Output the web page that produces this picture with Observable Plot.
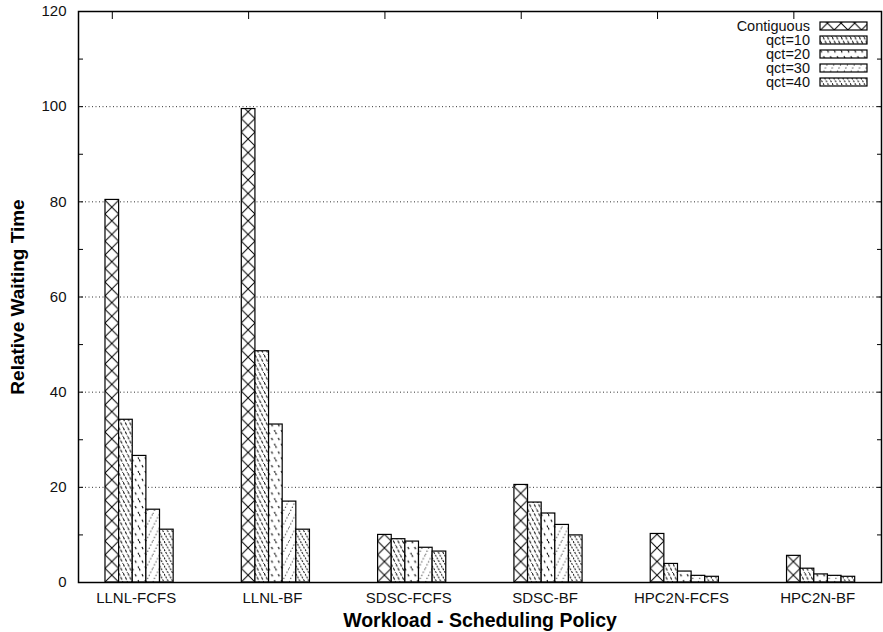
<!DOCTYPE html>
<html><head><meta charset="utf-8">
<script src="https://cdn.jsdelivr.net/npm/d3@7"></script>
<script src="https://cdn.jsdelivr.net/npm/@observablehq/plot@0.6"></script>
<style>body{margin:0;background:#fff;} svg{display:block}</style>
</head><body><div id="chart"></div>
<script>
// ---- data ----
const groups = ["LLNL-FCFS", "LLNL-BF", "SDSC-FCFS", "SDSC-BF", "HPC2N-FCFS", "HPC2N-BF"];
const series = ["Contiguous", "qct=10", "qct=20", "qct=30", "qct=40"];
const contiguous = [80.4, 99.5, 10.0, 20.5, 10.2, 5.6];
const qct10 = [34.2, 48.6, 9.1, 16.8, 3.9, 2.9];
const qct20 = [26.6, 33.2, 8.6, 14.5, 2.3, 1.7];
const qct30 = [15.3, 17.0, 7.3, 12.1, 1.4, 1.4];
const qct40 = [11.1, 11.1, 6.5, 9.9, 1.2, 1.2];
const yTicks = [0, 20, 40, 60, 80, 100, 120];
const yMinor = [0, 10, 20, 30, 40, 50, 60, 70, 80, 90, 100, 110, 120];
const yGrid = [20, 40, 60, 80, 100];

const values = [contiguous, qct10, qct20, qct30, qct40];
const rows = [];
series.forEach((s, j) => groups.forEach((g, i) => rows.push({group: g, series: s, gi: i, sj: j, value: values[j][i]})));

const CLUSTER = 10; // slots per cluster: 5 bars + gap of 5
const labelPos = groups.map((g, i) => i * CLUSTER + 2.25);
const topTickPos = groups.map((g, i) => i * CLUSTER + 0.5);
const font = "Liberation Sans, Arial, Helvetica, sans-serif";
const TICK_FS = 15;

const chart = Plot.plot({
  width: 883, height: 632,
  marginLeft: 78, marginRight: 2, marginTop: 11, marginBottom: 50,
  style: {fontFamily: font, fontSize: TICK_FS + "px", background: "white", color: "black"},
  x: {domain: [-1.98, 56.93], axis: null},
  y: {domain: [0, 120], axis: null},
  marks: [
    Plot.gridY(yGrid, {stroke: "#333", strokeOpacity: 1, strokeDasharray: "1,2.5", strokeWidth: 1}),
    ...series.map((s, j) => Plot.rect(rows.filter(r => r.sj === j), {
      x1: d => d.gi * CLUSTER + d.sj, x2: d => d.gi * CLUSTER + d.sj + 1,
      y1: 0, y2: "value", fill: `url(#pat${j})`, stroke: "black", strokeWidth: 1.2
    })),
    Plot.frame({stroke: "black", strokeWidth: 1.5}),
    Plot.axisY({ticks: yTicks, tickSize: 0, tickPadding: 12, label: null, fontSize: TICK_FS, fill: "#111"}),
    Plot.axisY({ticks: yMinor, tickSize: -5, tickFormat: () => "", label: null}),
    Plot.axisY({anchor: "right", ticks: yMinor, tickSize: -5, tickFormat: () => "", label: null}),
    Plot.axisX({anchor: "bottom", ticks: labelPos, tickSize: 0, tickPadding: 10, label: null,
      tickFormat: d => groups[Math.round((d - 2.25) / CLUSTER)], fontSize: TICK_FS, fill: "#111"}),
    Plot.axisX({anchor: "top", ticks: topTickPos, tickSize: -7, tickFormat: () => "", label: null}),
    Plot.text(["Workload - Scheduling Policy"], {frameAnchor: "bottom", dy: 38, lineAnchor: "middle", textAnchor: "middle", fontWeight: "bold", fontSize: 19.5, fill: "black"}),
    Plot.text(["Relative Waiting Time"], {frameAnchor: "left", dx: -61, rotate: -90, textAnchor: "middle", lineAnchor: "middle", fontWeight: "bold", fontSize: 19, fill: "black"})
  ]
});
document.getElementById("chart").appendChild(chart);

const svg = d3.select(chart);
// enforce tick-label font size
const tickTexts = new Set([...groups, ...yTicks.map(String)]);
svg.selectAll("text").each(function () {
  if (tickTexts.has(this.textContent)) {
    this.setAttribute("font-size", String(TICK_FS));
    this.style.fontSize = TICK_FS + "px";
  }
});

// ---- fill patterns ----
const sx = chart.scale("x"), sy = chart.scale("y");
const xs = d3.scaleLinear(sx.domain, sx.range), ys = d3.scaleLinear(sy.domain, sy.range);
const x0 = xs(0), y0 = ys(0);
const bw = xs(1) - xs(0);
const defs = svg.insert("defs", ":first-child");
function addPattern(id, w, h, draw) {
  const p = defs.append("pattern").attr("id", id).attr("patternUnits", "userSpaceOnUse")
    .attr("x", x0).attr("y", y0).attr("width", w).attr("height", h);
  p.append("rect").attr("width", w).attr("height", h).attr("fill", "white");
  draw(p, w, h);
}
// Contiguous: crosshatch
addPattern("pat0", bw, bw, (p, w, h) => {
  p.append("path").attr("d", `M0,0L${w},${h}M${w},0L0,${h}`).attr("stroke", "#000").attr("stroke-width", 1).attr("fill", "none");
});
// qct=10: dense dashed backslashes
addPattern("pat1", bw / 3, bw * 2 / 3, (p, w, h) => {
  p.append("path").attr("d", `M0,0L${w},${h}`).attr("stroke", "#000").attr("stroke-width", 1).attr("stroke-dasharray", "3,1.6").attr("fill", "none");
});
// qct=20: sparse dashed backslashes
addPattern("pat2", bw / 2, bw, (p, w, h) => {
  p.append("path").attr("d", `M0,0L${w},${h}`).attr("stroke", "#000").attr("stroke-width", 1.1).attr("stroke-dasharray", "2.5,4").attr("fill", "none");
});
// qct=30: light dotted forward slashes
addPattern("pat3", bw / 2, bw, (p, w, h) => {
  p.append("path").attr("d", `M0,${h}L${w},0`).attr("stroke", "#222").attr("stroke-width", 1).attr("stroke-dasharray", "1.2,2.2").attr("fill", "none");
});
// qct=40: dense dashed backslashes (different rhythm)
addPattern("pat4", bw / 3, bw * 0.6, (p, w, h) => {
  p.append("path").attr("d", `M0,0L${w},${h}`).attr("stroke", "#000").attr("stroke-width", 1).attr("stroke-dasharray", "2,1.2").attr("fill", "none");
});

// ---- legend (top right, inside frame) ----
const lg = svg.append("g").attr("font-family", font).attr("font-size", "14.5px");
series.forEach((s, j) => {
  const cy = 26 + j * 14;
  lg.append("text").attr("x", 810).attr("y", cy).attr("dy", "0.35em").attr("text-anchor", "end").attr("fill", "#111").text(s);
  lg.append("rect").attr("x", 820).attr("y", cy - 4).attr("width", 47).attr("height", 8)
    .attr("fill", `url(#pat${j})`).attr("stroke", "black").attr("stroke-width", 1.2);
});
</script>
</body></html>
